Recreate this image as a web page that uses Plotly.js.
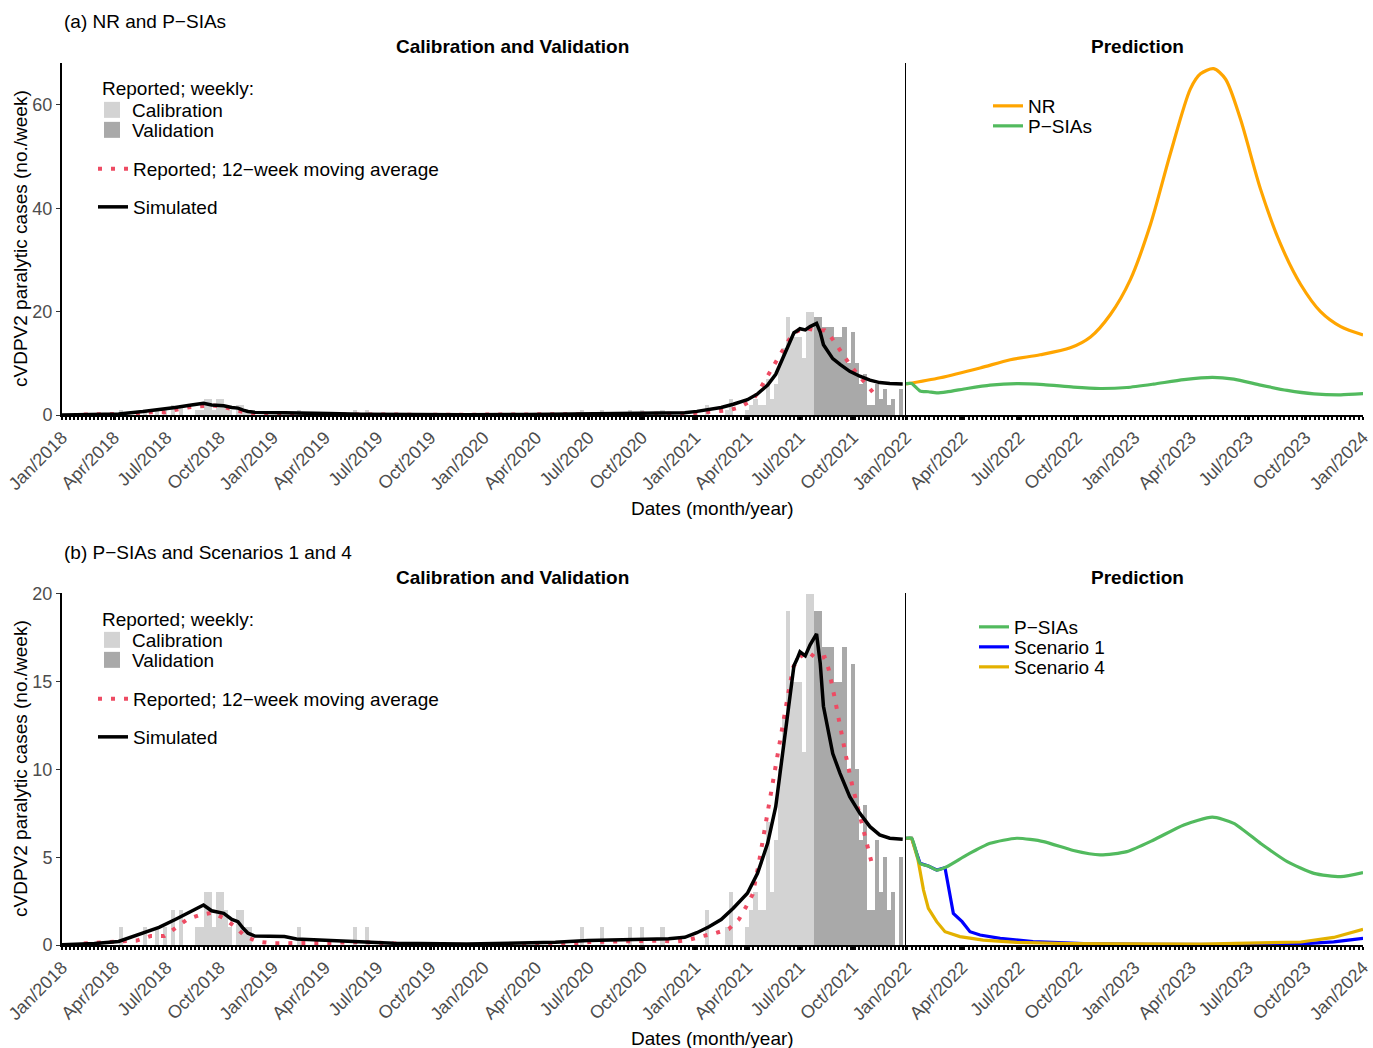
<!DOCTYPE html>
<html>
<head>
<meta charset="utf-8">
<script src="https://cdn.plot.ly/plotly-3.0.1.min.js"></script>
<style>
html,body{margin:0;padding:0;background:#ffffff;}
#chart{width:1373px;height:1048px;}
</style>
</head>
<body>
<div id="chart"></div>
<script>
// ================= DATA =================
// Reported weekly cases; week 0 = week starting 2018-01-01
// Calibration period: weeks 0..185
const calibrationCounts = [
  0,0,0,0,0,0,0,0,0,0,
  0,0,0,0,1,0,0,0,0,0,
  1,0,0,1,0,1,0,2,0,2,
  0,0,0,1,1,3,3,1,3,3,
  2,1,0,2,2,1,1,0,0,0,
  0,0,0,0,0,0,0,0,1,0,
  0,0,0,0,0,0,0,0,0,0,
  0,0,1,0,0,1,0,0,0,0,
  0,0,0,0,0,0,0,0,0,0,
  0,0,0,0,0,0,0,0,0,0,
  0,0,0,0,0,0,0,0,0,0,
  0,0,0,0,0,0,0,0,0,0,
  0,0,0,0,0,0,0,0,1,0,
  0,0,0,1,0,0,0,0,0,0,
  1,0,0,1,0,0,0,0,1,0,
  0,0,0,0,0,0,0,0,0,2,
  0,0,0,0,1,3,0,0,0,1,
  2,3,2,2,7,3,6,10,13,19,
  15,15,15,11,20,20
];
// Validation period: weeks 186..207
const validationCounts = [19,19,17,17,17,15,15,17,10,16,10,6,8,2,2,6,3,5,2,3,0,5];

// Reported; 12-week moving average (week offset from 2018-01-01, value)
const maWeeks  = [5.4,8.2,13.6,18.5,21.9,25.3,28.2,31,34.1,37.3,40.1,42.8,45.4,48.5,51.9,58.9,66.3,73.7,81.1,88.5,108.3,123.1,126.9,130.6,137.2,144.2,147.9,151.6,154.8,158.3,161.5,164.9,167.4,169.1,170.8,172.2,173.4,174.7,175.9,177.1,178.2,179.5,180.8,182.4,184.5,186.7,188.6,189.6,191.1,192.4,193.8,195.3,197.1,198.9,200.5];
const maValues = [0.08,0.13,0.2,0.25,0.51,0.51,1.0,1.46,1.71,1.85,1.52,1.04,0.47,0.19,0.1,0.1,0.12,0.17,0.1,0.02,0.0,0.05,0.1,0.17,0.2,0.25,0.25,0.2,0.28,0.5,0.67,0.91,1.46,2.15,2.89,4.5,6.14,7.75,9.35,10.96,12.59,14.2,15.82,16.4,16.7,16.3,16.4,15.7,14.05,12.44,10.83,9.21,7.6,6.02,4.43];

// Simulated (week offset from 2018-01-01, value)
const simWeeks  = [0,8,14,20,24,28,32,35,37,40,42,43.5,44.8,46,47.7,55,58,66,74,82,100,115,122,130,138,150,154,157,160,163,166,169.5,172,174.5,176.5,178,179.5,181,181.8,182.5,183.8,185,186.6,187.5,188.3,189.5,190.6,192.4,194.8,197.3,199.8,202.2,204.7,207.9];
const simValues = [0.02,0.08,0.2,0.66,1.0,1.45,1.95,2.28,1.95,1.8,1.46,1.33,0.95,0.67,0.51,0.48,0.34,0.27,0.16,0.1,0.06,0.1,0.15,0.25,0.3,0.36,0.44,0.7,1.04,1.45,2.09,2.95,4.08,5.79,7.88,10.5,13.4,15.9,16.3,16.7,16.47,17.1,17.72,16.05,13.6,12.06,10.9,9.78,8.45,7.5,6.74,6.27,6.08,6.02];

// Predictions (week offset from 2022-01-01, value)
const nrWeeks  = [0,7.8,16.9,23.8,30.6,37.5,42.1,46.6,51.2,55.8,60.3,64.9,67.2,70.2,72.9,76.3,80.9,85.5,90.1,94.6,99.2,104.3];
const nrValues = [6.0,7.2,9.1,10.7,11.65,13.0,15.1,19.4,26.2,36.9,50.5,63.1,66.0,67.0,65.0,57.3,43.7,33.0,25.2,20.0,17.1,15.5];

const psiaWeeks  = [0,1.3,3.2,5.1,7.0,9.3,13.9,19.2,25.3,31.4,38.2,44.3,50.4,56.5,63.4,69.9,74.8,80.9,87.0,93.1,99.2,104.3];
const psiaValues = [6.08,6.08,4.65,4.5,4.27,4.46,5.13,5.79,6.08,5.89,5.38,5.13,5.32,5.98,6.84,7.28,6.93,5.79,4.75,4.08,3.89,4.12];

const s1Weeks  = [0,1.3,3.2,5.1,7.0,8.9,10.8,12.8,14.6,16.9,21.5,29.0,40.5,55.8,78.6,90.1,97.6,104.3];
const s1Values = [6.08,6.08,4.65,4.5,4.27,4.4,1.8,1.33,0.76,0.57,0.38,0.19,0.08,0.03,0.02,0.06,0.18,0.38];

const s4Weeks  = [0,1.3,2.7,4.0,5.1,7.0,8.9,12.3,17.6,25.3,36.7,67.2,90.1,97.6,104.3];
const s4Values = [6.08,6.08,4.9,3.13,2.09,1.33,0.76,0.48,0.28,0.15,0.08,0.05,0.17,0.43,0.89];

// Tick labels
const leftTickDates  = ['2018-01-01','2018-04-01','2018-07-01','2018-10-01','2019-01-01','2019-04-01','2019-07-01','2019-10-01','2020-01-01','2020-04-01','2020-07-01','2020-10-01','2021-01-01','2021-04-01','2021-07-01','2021-10-01','2022-01-01'];
const rightTickDates = ['2022-04-01','2022-07-01','2022-10-01','2023-01-01','2023-04-01','2023-07-01','2023-10-01','2024-01-01'];
const topYTicks = [0,20,40,60];
const bottomYTicks = [0,5,10,15,20];

// ================= HELPERS =================
const BASE_LEFT = Date.UTC(2018,0,1);
const BASE_RIGHT = Date.UTC(2022,0,1);
const WEEK_MS = 7*86400000;
function wk(base, w){
  const d = new Date(base + w*WEEK_MS);
  return d.toISOString().slice(0,19).replace('T',' ');
}
const calX = calibrationCounts.map((v,i)=>wk(BASE_LEFT, i+0.5));
const valX = validationCounts.map((v,i)=>wk(BASE_LEFT, calibrationCounts.length+i+0.5));
const maX  = maWeeks.map(w=>wk(BASE_LEFT,w));
const simX = simWeeks.map(w=>wk(BASE_LEFT,w));
const nrX  = nrWeeks.map(w=>wk(BASE_RIGHT,w));
const psiaX= psiaWeeks.map(w=>wk(BASE_RIGHT,w));
const s1X  = s1Weeks.map(w=>wk(BASE_RIGHT,w));
const s4X  = s4Weeks.map(w=>wk(BASE_RIGHT,w));

const FONT = 'Liberation Sans, Arial, Helvetica, sans-serif';
const W=1373, H=1048, ML=62, MR=10, MT=63, MB=103;
const plotW = W-ML-MR, plotH = H-MT-MB;
const px = p => (p-ML)/plotW;
const py = p => (H-MB-p)/plotH;
const splitX = px(906);

const C_CAL='#D3D3D3', C_VAL='#A9A9A9', C_MA='#EE4B63', C_SIM='#000000';
const C_NR='#FFA500', C_PSIA='#52BA5E', C_S1='#0000FF', C_S4='#E3B100';

function bars(x,y,color,name,xa,ya){
  return {type:'bar', x:x, y:y, name:name, xaxis:xa, yaxis:ya, showlegend:false,
    width: WEEK_MS, marker:{color:color, line:{width:0}}, hoverinfo:'skip'};
}
// legend key (square swatch) for a bar series
function barKey(color,name,xa,ya,leg){
  return {type:'scatter', mode:'markers', x:[null], y:[null], name:name, xaxis:xa, yaxis:ya, legend:leg,
    showlegend:true, marker:{symbol:'square', size:16, color:color, line:{width:0}}, hoverinfo:'skip'};
}
function line(x,y,color,name,xa,ya,leg,opts){
  return {type:'scatter', mode:'lines', x:x, y:y, name:name, xaxis:xa, yaxis:ya, legend:leg,
    line:Object.assign({color:color, width:3.2}, opts||{}), hoverinfo:'skip'};
}

const traces = [
  // top row
  bars(calX, calibrationCounts, C_CAL, 'Calibration', 'x','y'),
  bars(valX, validationCounts, C_VAL, 'Validation', 'x','y'),
  barKey(C_CAL, 'Calibration', 'x','y','legend'),
  barKey(C_VAL, 'Validation', 'x','y','legend2'),
  line(maX, maValues, C_MA, 'Reported; 12\u2212week moving average','x','y','legend3',{width:4, dash:'4px,9px'}),
  line(simX, simValues, C_SIM, 'Simulated','x','y','legend4',{width:3.5}),
  line(nrX, nrValues, C_NR, 'NR','x2','y2','legend5',{shape:'spline', smoothing:0.8}),
  line(psiaX, psiaValues, C_PSIA, 'P\u2212SIAs','x2','y2','legend6',{shape:'spline', smoothing:0.6}),
  // bottom row
  bars(calX, calibrationCounts, C_CAL, 'Calibration', 'x3','y3'),
  bars(valX, validationCounts, C_VAL, 'Validation', 'x3','y3'),
  barKey(C_CAL, 'Calibration', 'x3','y3','legend7'),
  barKey(C_VAL, 'Validation', 'x3','y3','legend8'),
  line(maX, maValues, C_MA, 'Reported; 12\u2212week moving average','x3','y3','legend9',{width:4, dash:'4px,9px'}),
  line(simX, simValues, C_SIM, 'Simulated','x3','y3','legend10',{width:3.5}),
  line(s1X, s1Values, C_S1, 'Scenario 1','x4','y4','legend12'),
  line(s4X, s4Values, C_S4, 'Scenario 4','x4','y4','legend13'),
  line(psiaX, psiaValues, C_PSIA, 'P\u2212SIAs','x4','y4','legend11',{shape:'spline', smoothing:0.6})
];

const tickFont = {family:FONT, size:18, color:'#4D4D4D'};
const minorWeek = {dtick: WEEK_MS, tick0:'2018-01-01', ticks:'outside', ticklen:3, tickwidth:2, tickcolor:'#000', showgrid:false};
function xAxis(domain, anchor, range, tickvals){
  return {domain:domain, anchor:anchor, type:'date', range:range, tickmode:'array', tickvals:tickvals,
    tickformat:'%b/%Y', tickangle:-45, ticks:'outside', ticklen:3, tickwidth:2, tickcolor:'#000',
    showline:true, linewidth:2, linecolor:'#000', showgrid:false, zeroline:false, tickfont:tickFont,
    minor:minorWeek, fixedrange:true};
}
function yAxisMain(domain, anchor, range, tickvals){
  return {domain:domain, anchor:anchor, range:range, tickmode:'array', tickvals:tickvals,
    ticks:'outside', ticklen:4, tickwidth:1, tickcolor:'#333', showline:true, linewidth:2, linecolor:'#000',
    showgrid:false, zeroline:false, tickfont:tickFont, fixedrange:true};
}
function yAxisSide(domain, anchor, range){
  return {domain:domain, anchor:anchor, range:range, showticklabels:false, ticks:'',
    showline:true, linewidth:1, linecolor:'#000', showgrid:false, zeroline:false, fixedrange:true};
}
function leg(xp, yp){
  return {x:px(xp), y:py(yp), xanchor:'left', yanchor:'middle', bgcolor:'rgba(0,0,0,0)', borderwidth:0,
    font:{family:FONT, size:19, color:'#000'}, itemwidth:30, itemclick:false, itemdoubleclick:false};
}

const topDom = [py(415), 1];
const botDom = [0, py(593)];

function ann(text, xp, yp, opts){
  return Object.assign({text:text, x:px(xp), y:py(yp), xref:'paper', yref:'paper', showarrow:false,
    xanchor:'center', yanchor:'middle', font:{family:FONT, size:19, color:'#000'}}, opts||{});
}

const layout = {
  width:W, height:H, margin:{l:ML, r:MR, t:MT, b:MB, pad:0},
  paper_bgcolor:'#ffffff', plot_bgcolor:'#ffffff',
  font:{family:FONT, size:19, color:'#000'},
  barmode:'overlay', bargap:0,
  showlegend:true,
  xaxis:  xAxis([0,splitX], 'y',  ['2018-01-01','2022-01-01'], leftTickDates),
  xaxis2: xAxis([splitX,1], 'y2', ['2022-01-01','2024-01-01'], rightTickDates),
  xaxis3: xAxis([0,splitX], 'y3', ['2018-01-01','2022-01-01'], leftTickDates),
  xaxis4: xAxis([splitX,1], 'y4', ['2022-01-01','2024-01-01'], rightTickDates),
  yaxis:  yAxisMain(topDom, 'x', [0,68.1], topYTicks),
  yaxis2: yAxisSide(topDom, 'x2', [0,68.1]),
  yaxis3: yAxisMain(botDom, 'x3', [0,20.05], bottomYTicks),
  yaxis4: yAxisSide(botDom, 'x4', [0,20.05]),
  legend:   leg(92,110),
  legend2:  leg(92,130),
  legend3:  leg(93,169),
  legend4:  leg(93,207),
  legend5:  leg(988,106),
  legend6:  leg(988,126),
  legend7:  leg(92,640),
  legend8:  leg(92,660),
  legend9:  leg(93,699),
  legend10: leg(93,737),
  legend11: leg(974,627),
  legend12: leg(974,647),
  legend13: leg(974,667),
  annotations: [
    ann('(a) NR and P\u2212SIAs', 62, 22, {xanchor:'left'}),
    ann('<b>Calibration and Validation</b>', 512, 47),
    ann('<b>Prediction</b>', 1137, 47),
    ann('Reported; weekly:', 100, 89, {xanchor:'left'}),
    ann('Dates (month/year)', 712, 508),
    ann('cVDPV2 paralytic cases (no./week)', 20, 239, {textangle:-90}),
    ann('(b) P\u2212SIAs and Scenarios 1 and 4', 62, 552, {xanchor:'left'}),
    ann('<b>Calibration and Validation</b>', 512, 577),
    ann('<b>Prediction</b>', 1137, 577),
    ann('Reported; weekly:', 100, 619, {xanchor:'left'}),
    ann('Dates (month/year)', 712, 1038),
    ann('cVDPV2 paralytic cases (no./week)', 20, 769, {textangle:-90})
  ]
};

Plotly.newPlot('chart', traces, layout, {staticPlot:true, displayModeBar:false});
</script>
</body>
</html>
